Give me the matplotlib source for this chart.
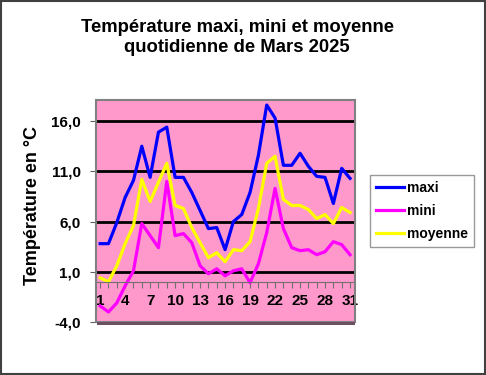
import matplotlib.pyplot as plt
from matplotlib.patches import Rectangle

plt.rcParams['font.family'] = ['Liberation Sans', 'DejaVu Sans']

# Données
jours = list(range(1, 32))
maxi = [3.8, 3.8, 5.9, 8.4, 10.1, 13.5, 10.4, 14.9, 15.4, 10.4,
        10.4, 8.9, 7.1, 5.3, 5.4, 3.2, 6.0, 6.7, 8.9, 12.6,
        17.6, 16.3, 11.6, 11.6, 12.8, 11.5, 10.5, 10.4, 7.8, 11.3, 10.3]
mini = [-2.4, -3.0, -2.1, -0.4, 1.1, 5.8, 4.6, 3.4, 10.0, 4.6,
        4.8, 3.9, 1.6, 0.8, 1.3, 0.6, 1.1, 1.3, -0.1, 1.8,
        4.9, 9.3, 5.3, 3.4, 3.1, 3.2, 2.7, 3.0, 4.0, 3.7, 2.7]
moyenne = [0.4, 0.0, 1.6, 3.8, 5.6, 10.2, 8.0, 9.9, 11.8, 7.6,
           7.3, 5.4, 3.9, 2.4, 2.9, 2.0, 3.2, 3.1, 4.0, 7.3,
           11.8, 12.5, 8.2, 7.6, 7.6, 7.2, 6.3, 6.7, 5.8, 7.4, 6.9]
y_ticks = [-4, 1, 6, 11, 16]
x_labels = list(range(1, 32, 3))

fig = plt.figure(figsize=(4.86, 3.75), dpi=100)
fig.patch.set_facecolor('white')
fig.patches.append(Rectangle((0.002, 0.003), 0.995, 0.994, transform=fig.transFigure,
                             fill=False, edgecolor='#404040', lw=1.5))

ax = fig.add_axes([0.1975, 0.1413, 0.533, 0.592])
ax.set_facecolor('#FF99CC')

ax.plot(jours, maxi, color='#0000FF', lw=2.3, label='maxi')
ax.plot(jours, mini, color='#FF00FF', lw=2.3, label='mini')
ax.plot(jours, moyenne, color='#FFFF00', lw=2.3, label='moyenne')

ax.set_xlim(0.5, 31.6)
ax.set_ylim(-4, 18.1)

# axe Y
ax.set_yticks(y_ticks)
ax.set_yticklabels([f"{v:.1f}".replace('.', ',') for v in y_ticks],
                   fontsize=11, fontweight='bold')
ax.tick_params(axis='y', direction='out', length=4, color='#606060', pad=7)
ax.yaxis.grid(True, color='black', lw=2.0)
for gl in ax.get_ygridlines():
    gl.set_zorder(1.5)
ax.get_ygridlines()[0].set_visible(False)

# axe X au niveau de 0
ax.spines['bottom'].set_position(('data', 0))
ax.spines['bottom'].set_color('#707070')
ax.set_xticks(jours)
ax.set_xticklabels([str(j) if j in x_labels else '' for j in jours],
                   fontsize=11, fontweight='bold')
ax.tick_params(axis='x', direction='out', length=4, color='#707070', pad=5)

for s in ['top', 'left', 'right']:
    ax.spines[s].set_visible(False)
ax.add_patch(Rectangle((0, 0), 1, 1, transform=ax.transAxes, fill=False,
                       edgecolor='#808080', lw=1.5, zorder=5, clip_on=False))
ax.add_patch(Rectangle((0.005, -0.012), 0.995, 0.01, transform=ax.transAxes,
                       facecolor='#6a5060', edgecolor='none', zorder=5, clip_on=False))

fig.text(0.488, 0.9, "Température maxi, mini et moyenne\nquotidienne de Mars 2025",
         ha='center', va='center', fontsize=13.3, fontweight='bold', linespacing=1.3)
fig.text(0.066, 0.453, "Température en °C", rotation=90, ha='center', va='center',
         fontsize=13, fontweight='bold')

leg = ax.legend(loc='center left', bbox_to_anchor=(1.03, 0.5), frameon=True,
                fancybox=False, edgecolor='#808080',
                prop={'weight': 'bold', 'size': 10}, handlelength=2.0,
                labelspacing=0.65, borderpad=0.45, handletextpad=0.2)
leg.get_frame().set_linewidth(1.0)

fig.savefig('out.png', dpi=100)
